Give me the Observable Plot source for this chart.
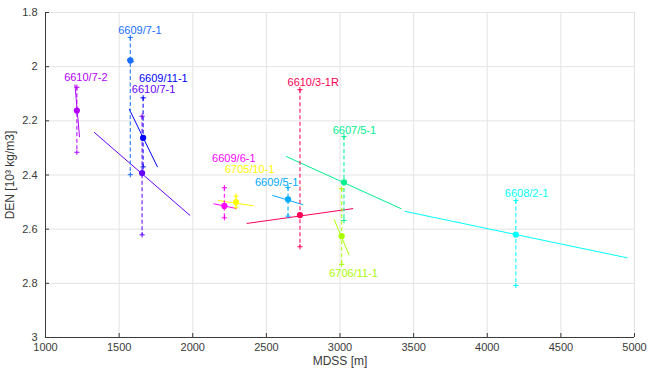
<!DOCTYPE html>
<html>
<head>
<meta charset="utf-8">
<script src="https://cdn.jsdelivr.net/npm/d3@7"></script>
<script src="https://cdn.jsdelivr.net/npm/@observablehq/plot@0.6"></script>
<style>
  html, body { margin: 0; padding: 0; background: #fff; }
  #chart svg { display: block; }
</style>
</head>
<body>
<div id="chart"></div>
<script>
// Wells and their colours
const wells = ["6610/7-2", "6609/7-1", "6609/11-1", "6610/7-1", "6609/6-1", "6705/10-1",
               "6609/5-1", "6610/3-1R", "6607/5-1", "6706/11-1", "6608/2-1"];
const wellColors = ["#b300ff", "#1a6eff", "#0000ff", "#6600ff", "#ff00ff", "#ffff00",
                    "#00aaff", "#ff0055", "#00f090", "#aaff00", "#00ffff"];

// Mean depth (MDSS, m) and mean density (10^3 kg/m3) per well
const depth   = [1213, 1576, 1663, 1656, 2215, 2294, 2647, 2728, 3027, 3011, 4194];
const density = [2.162, 1.977, 2.263, 2.393, 2.514, 2.500, 2.490, 2.548, 2.427, 2.626, 2.620];

// Density spread (upper / lower end of the dashed bars)
const denLow  = [2.076, 1.892, 2.115, 2.183, 2.447, 2.478, 2.446, 2.085, 2.258, 2.451, 2.494];
const denHigh = [2.316, 2.399, 2.370, 2.621, 2.558, 2.519, 2.552, 2.665, 2.568, 2.730, 2.808];

// Density-depth trend segments
const trendDepthA = [1200, 1555, 1568, 1330, 2141, 2172, 2540, 2366, 2633, 2960, 3439];
const trendDenA   = [2.066, 1.973, 2.156, 2.242, 2.506, 2.494, 2.475, 2.579, 2.331, 2.564, 2.534];
const trendDepthB = [1231, 1600, 1761, 1983, 2299, 2412, 2750, 3089, 3417, 3062, 4952];
const trendDenB   = [2.260, 1.982, 2.371, 2.550, 2.524, 2.514, 2.510, 2.524, 2.525, 2.696, 2.706];

// Well name annotation anchors
const labelDepth = [1274, 1641, 1800, 1734, 2279, 2387, 2570, 2818, 3098, 3092, 4267];
const labelDen   = [2.041, 1.866, 2.044, 2.086, 2.338, 2.379, 2.427, 2.057, 2.236, 2.763, 2.469];

// Axis ticks
const xTicks = [1000, 1500, 2000, 2500, 3000, 3500, 4000, 4500, 5000];
const yTicks = [1.8, 2, 2.2, 2.4, 2.6, 2.8, 3];

const rows = wells.map((w, i) => ({
  well: w,
  depth: depth[i], density: density[i],
  low: denLow[i], high: denHigh[i],
  xa: trendDepthA[i], ya: trendDenA[i], xb: trendDepthB[i], yb: trendDenB[i],
  lx: labelDepth[i], ly: labelDen[i]
}));
const barEnds = rows.flatMap(d => [
  {well: d.well, depth: d.depth, density: d.low},
  {well: d.well, depth: d.depth, density: d.high}
]);

const axisColor = "#3a3a3a";

const chart = Plot.plot({
  width: 648,
  height: 376,
  marginLeft: 45,
  marginRight: 14,
  marginTop: 12,
  marginBottom: 39,
  style: {fontFamily: "'Liberation Sans', Arial, Helvetica, sans-serif", fontSize: "11px", color: axisColor, background: "#fff"},
  x: {domain: [1000, 5000]},
  y: {domain: [1.8, 3], reverse: true},
  color: {domain: wells, range: wellColors},
  marks: [
    Plot.gridX(xTicks, {stroke: "#e3e3e3", strokeOpacity: 1}),
    Plot.gridY(yTicks, {stroke: "#e3e3e3", strokeOpacity: 1}),
    Plot.ruleX([1000], {stroke: axisColor, strokeWidth: 1}),
    Plot.ruleY([3], {stroke: axisColor, strokeWidth: 1}),
    Plot.axisX({ticks: xTicks, tickSize: -4, tickPadding: 10, tickFormat: d => String(d), label: null}),
    Plot.axisY({ticks: yTicks, tickSize: -4, tickPadding: 12, tickFormat: d => String(d), label: null}),
    Plot.text(["MDSS [m]"], {frameAnchor: "bottom", lineAnchor: "middle", dy: 24, fontSize: 12, fill: axisColor}),
    Plot.text(["DEN [10³ kg/m3]"], {frameAnchor: "left", lineAnchor: "middle", textAnchor: "middle", rotate: -90, dx: -35, fontSize: 12, fill: axisColor}),
    // trend segments
    Plot.link(rows, {x1: "xa", y1: "ya", x2: "xb", y2: "yb", stroke: "well", strokeWidth: 1}),
    // spread bars
    Plot.ruleX(rows, {x: "depth", y1: "low", y2: "high", stroke: "well", strokeWidth: 1.3, strokeDasharray: "4,2.5", strokeOpacity: 0.8}),
    Plot.dot(barEnds, {x: "depth", y: "density", symbol: "plus", r: 1.8, stroke: "well", strokeWidth: 1}),
    // mean values
    Plot.dot(rows, {x: "depth", y: "density", r: 3.1, fill: "well"}),
    // well names
    Plot.text(rows, {x: "lx", y: "ly", text: "well", fill: "well", fontSize: 11})
  ]
});

document.getElementById("chart").appendChild(chart);
</script>
</body>
</html>
